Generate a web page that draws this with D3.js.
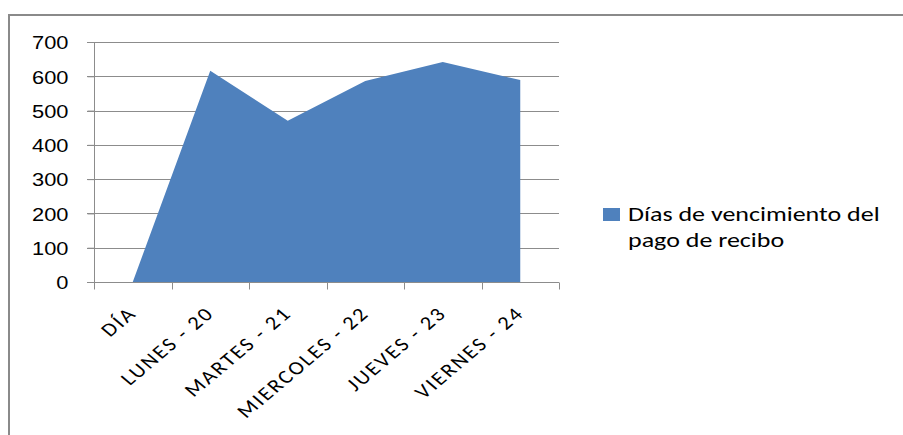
<!DOCTYPE html>
<html>
<head>
<meta charset="utf-8">
<script src="https://cdn.jsdelivr.net/npm/d3@7"></script>
<style>
  html, body { margin: 0; padding: 0; background: #fff; }
  svg { display: block; font-family: Calibri, Carlito, Lato, "Liberation Sans", sans-serif; }
</style>
</head>
<body>
<svg id="chart" width="903" height="435"></svg>
<script>
// Categories and values of the area series
const categories = ["DÍA", "LUNES - 20", "MARTES - 21", "MIERCOLES - 22", "JUEVES - 23", "VIERNES - 24"];
const values = [0, 616, 470, 586, 642, 589];
const yTicks = [0, 100, 200, 300, 400, 500, 600, 700];
const seriesName = ["Días de vencimiento del", "pago de recibo"];

const svg = d3.select("#chart");
const W = 903, H = 435;
const plot = { left: 94, right: 559, top: 42, bottom: 282 };
const axisColor = "#8c8c8c";
const fill = "#4F81BD";

// Chart frame (top and left edges)
svg.append("line").attr("x1", 9).attr("x2", W).attr("y1", 15).attr("y2", 15)
  .attr("stroke", "#8a8a8a").attr("stroke-width", 2);
svg.append("line").attr("x1", 9).attr("x2", 9).attr("y1", 14).attr("y2", H)
  .attr("stroke", "#8a8a8a").attr("stroke-width", 2);

const x = d3.scaleBand().domain(categories).range([plot.left, plot.right]).padding(0);
const y = d3.scaleLinear().domain([0, 700]).range([plot.bottom, plot.top]);

// Horizontal gridlines
svg.append("g").selectAll("line").data(yTicks.slice(1)).join("line")
  .attr("x1", plot.left - 7).attr("x2", plot.right)
  .attr("y1", d => Math.round(y(d)) + 0.5).attr("y2", d => Math.round(y(d)) + 0.5)
  .attr("stroke", axisColor).attr("stroke-width", 1);

// Area series
const area = d3.area()
  .x(d => x(d.c) + x.bandwidth() / 2)
  .y0(y(0))
  .y1(d => y(d.v));
svg.append("path")
  .datum(categories.map((c, i) => ({ c, v: values[i] })))
  .attr("d", area)
  .attr("fill", fill);

// Y axis
const yAxis = d3.axisLeft(y).tickValues(yTicks).tickSize(7).tickPadding(0);
const gy = svg.append("g").attr("transform", `translate(${plot.left + 0.5},0)`).call(yAxis);
gy.select(".domain").attr("stroke", axisColor).attr("d", `M0,${plot.top}V${plot.bottom}`);
gy.selectAll(".tick line").attr("stroke", axisColor);
gy.selectAll(".tick text")
  .attr("font-size", 19).attr("fill", "#000")
  .attr("x", 0).attr("dy", "0.36em")
  .attr("transform", "translate(-26,0) scale(1.15,1)");

// X axis with tick marks at category boundaries
const gx = svg.append("g").attr("transform", `translate(0,${plot.bottom + 0.5})`);
gx.append("line").attr("x1", plot.left - 7).attr("x2", plot.right)
  .attr("stroke", axisColor);
const bounds = categories.map(c => x(c)).concat([plot.right]);
gx.selectAll("line.tk").data(bounds).join("line").attr("class", "tk")
  .attr("x1", d => Math.round(d) + 0.5).attr("x2", d => Math.round(d) + 0.5)
  .attr("y1", 0).attr("y2", 7).attr("stroke", axisColor);
gx.selectAll("text").data(categories).join("text")
  .attr("transform", d => `translate(${x(d) + x.bandwidth() / 2 + 5},${32}) scale(1.19,1) rotate(-45)`)
  .attr("text-anchor", "end")
  .attr("font-size", 19)
  .attr("letter-spacing", 1.8)
  .attr("fill", "#000")
  .text(d => d);

// Legend
const lg = svg.append("g").attr("transform", "translate(603,208)");
lg.append("rect").attr("width", 17).attr("height", 13).attr("fill", fill);
lg.selectAll("text").data(seriesName).join("text")
  .attr("transform", (d, i) => `translate(25,${13 + i * 26}) scale(1.3,1)`)
  .attr("font-size", 20).attr("fill", "#000")
  .text(d => d);
</script>
</body>
</html>
